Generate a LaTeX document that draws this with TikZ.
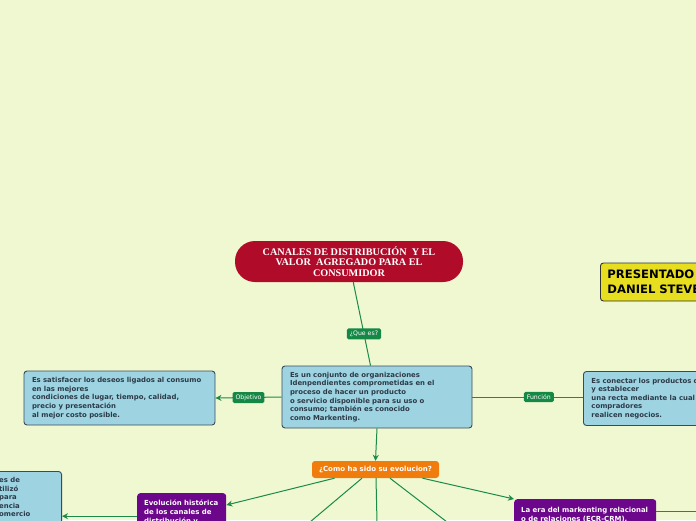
\documentclass[tikz,border=0pt]{standalone}
\usepackage{fontspec}
\newfontfamily\dv{DejaVu Sans}
\newfontfamily\lserif{Liberation Serif}
\usetikzlibrary{arrows.meta,calc}
\definecolor{bg}{RGB}{239,248,209}
\definecolor{conncol}{RGB}{28,138,72}
\definecolor{lblcol}{RGB}{22,136,70}
\definecolor{bluefill}{RGB}{158,212,226}
\definecolor{blueborder}{RGB}{60,74,88}
\definecolor{bluetext}{RGB}{44,58,72}
\definecolor{titlered}{RGB}{176,12,42}
\definecolor{orangefill}{RGB}{240,124,14}
\definecolor{purplefill}{RGB}{108,6,138}
\definecolor{yellowfill}{RGB}{230,222,30}
\tikzset{
  conn/.style={draw=conncol, line width=1pt},
  arr/.style={conn, -{Stealth[length=6pt,width=6pt]}},
  lbl/.style={fill=lblcol, text=white, rounded corners=1.5pt, font=\dv\fontsize{6.2}{7}\selectfont, inner xsep=3pt, inner ysep=2.5pt},
  bluebox/.style={rectangle, rounded corners=3pt, fill=bluefill, draw=blueborder, line width=0.9pt, text=bluetext,
     font=\dv\bfseries\fontsize{6.9}{8.6}\selectfont, align=left, inner xsep=8pt},
  purplebox/.style={rectangle, rounded corners=3pt, fill=purplefill, text=white,
     font=\dv\bfseries\fontsize{6.95}{9}\selectfont, align=left, inner xsep=7pt},
}
\begin{document}
\begin{tikzpicture}[x=1pt,y=-1pt]
\useasboundingbox (0,0) rectangle (696,520);
\fill[bg] (0,0) rectangle (696,520);
\begin{scope}
\clip (0,0) rectangle (696,520);

% title
\node[rectangle, rounded corners=20pt, fill=titlered, text=white, minimum width=228pt, minimum height=41pt,
  font=\lserif\bfseries\fontsize{10.2}{10.5}\selectfont, align=center] (title) at (349,261.5)
  {CANALES DE DISTRIBUCIÓN\ \ Y EL\\VALOR\ \ AGREGADO PARA EL\\CONSUMIDOR};

% central
\node[bluebox, minimum width=190pt, minimum height=62pt, text width=174pt] (central) at (377,397)
  {Es un conjunto de organizaciones\\Idenpendientes comprometidas en el\\proceso de hacer un producto\\o servicio disponible para su uso o\\consumo; también es conocido\\como Markenting.};

% left box
\node[bluebox, minimum width=191pt, minimum height=54pt, text width=175pt] (objbox) at (119.5,398)
  {Es satisfacer los deseos ligados al consumo\\en las mejores\\condiciones de lugar, tiempo, calidad,\\precio y presentación\\al mejor costo posible.};

% right box
\node[bluebox, anchor=west, minimum width=210pt, minimum height=54pt, text width=194pt] (funbox) at (583,398.5)
  {Es conectar los productos con el mercado\\y establecer\\una recta mediante la cual\\compradores\\realicen negocios.};

% yellow
\node[rectangle, anchor=west, rounded corners=3pt, fill=yellowfill, draw=black!80, line width=0.9pt,
  minimum width=190pt, minimum height=38pt, align=left, inner xsep=7pt, text width=176pt,
  font=\dv\bfseries\fontsize{11.6}{14.5}\selectfont] (author) at (600,282)
  {PRESENTADO POR:\\DANIEL STEVEN};

% orange
\node[rectangle, rounded corners=3pt, fill=orangefill, text=white, minimum width=127pt, minimum height=17pt,
  font=\dv\bfseries\fontsize{7}{8}\selectfont] (evol) at (375.5,469.5) {¿Como ha sido su evolucion?};

% purple left
\node[purplebox, anchor=north west, minimum width=89pt, minimum height=46pt, text width=75pt, inner ysep=5pt] (histo) at (137,493)
  {Evolución histórica\\de los canales de\\distribución y\\comercio};

% purple right
\node[purplebox, anchor=north west, minimum width=142pt, minimum height=40pt, text width=128pt, inner ysep=5pt] (era) at (514,499)
  {La era del markenting relacional\\o de relaciones (ECR-CRM),\\y la era digital};

% bottom-left blue
\node[rectangle, anchor=north east, rounded corners=3pt, fill=bluefill, draw=blueborder, line width=0.9pt,
  minimum width=150pt, minimum height=80pt] (oldbox) at (62,471) {};
\node[anchor=north west, text=bluetext, font=\dv\bfseries\fontsize{6.9}{8.6}\selectfont, align=left, inner sep=0pt]
  (oldtext) at (-1,477) {es de\\tilizó\\para\\encia\\omercio};

% connectors
\draw[conn] (title) -- (central) node[lbl, pos=0.62] (q1) {¿Que es?};
\draw[arr] (central.west) -- (objbox.east) node[lbl, pos=0.5] (q2) {Objetivo};
\draw[conn] (central.east) -- (central.east -| funbox.west) node[lbl, pos=0.6] (q3) {Función};
\draw[arr] (central.south) -- (evol.north);

\coordinate (b1) at (310,522);
\coordinate (b2) at (377,522);
\coordinate (b3) at (447,522);
\draw[arr] ([xshift=-41pt]evol.south) -- ([yshift=-12pt]histo.north east);
\draw[conn] ([xshift=-13.5pt]evol.south) -- (b1);
\draw[conn] ([xshift=0.5pt]evol.south) -- (b2);
\draw[conn] ([xshift=14.5pt]evol.south) -- (b3);
\draw[arr] ([xshift=47pt]evol.south) -- (era.north west);

\draw[arr] (histo.west) -- (histo.west -| oldbox.east);
\coordinate (rout) at (700,511);
\draw[conn] ([yshift=-12pt]era.north east) -- (rout);
\end{scope}
\end{tikzpicture}
\end{document}
